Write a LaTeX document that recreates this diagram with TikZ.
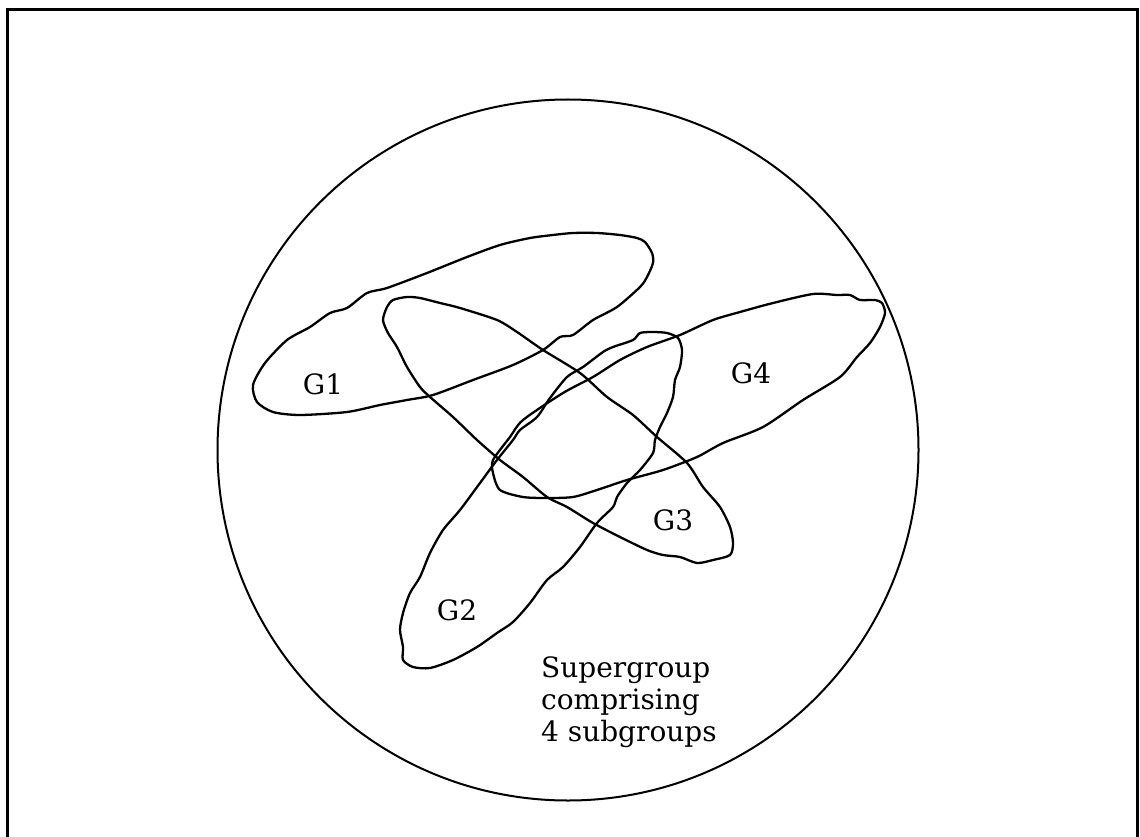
\documentclass[tikz,border=0pt]{standalone}
\usepackage{fontspec}
\setmainfont{DejaVu Serif}
\begin{document}
\begin{tikzpicture}[x=1pt,y=-1pt,
  frame/.style={line width=3pt},
  blob/.style={line width=2.3pt, line join=round},
  super/.style={line width=2pt},
  lbl/.style={font=\fontsize{28}{32}\selectfont, inner sep=0pt},
  txt/.style={font=\fontsize{28}{32}\selectfont, inner sep=0pt, anchor=base west}]
\useasboundingbox (0,0) rectangle (1140,837);
% outer frame (no bottom edge)
\coordinate (fbl) at (7.5,845);
\coordinate (ftl) at (7.5,9.5);
\coordinate (ftr) at (1137,9.5);
\coordinate (fbr) at (1137,845);
\draw[frame] (fbl) -- (ftl) -- (ftr) -- (fbr);
% supergroup circle
\coordinate (sc) at (568,450);
\draw[super] (sc) circle[radius=350.5];
% G1
\draw[blob] plot[smooth cycle, tension=0.45] coordinates {
(253,385) (265,363) (287,340) (310,327) (330,313) (347,308) (367,293) (387,288)
(427,273) (467,257) (500,245) (530,238) (553,235) (573,233) (597,233) (620,235)
(637,238) (645,242) (652,253) (653,263) (647,277) (640,287) (617,307) (593,320)
(573,335) (560,337) (543,350) (513,365) (473,380) (433,395) (407,400) (380,405)
(347,412) (300,415) (273,412) (257,402)};
% G3
\draw[blob] plot[smooth cycle, tension=0.45] coordinates {
(393,300) (407,297) (420,298) (440,303) (460,308) (497,320) (517,332) (543,350)
(580,373) (607,397) (633,415) (657,437) (687,463) (703,487) (720,507) (730,527)
(733,543) (730,555) (713,560) (697,563) (680,557) (663,555) (647,550) (620,537)
(593,523) (567,507) (547,497) (523,477) (500,460) (477,440) (453,417) (430,397)
(420,387) (407,367) (397,347) (388,333) (383,320) (387,307)};
% G2
\draw[blob] plot[smooth cycle, tension=0.45] coordinates {
(653,332) (667,333) (678,338) (682,350) (680,367) (675,380) (673,397) (667,413)
(660,427) (655,440) (653,453) (640,470) (627,483) (617,497) (613,507) (597,523)
(580,547) (563,567) (547,580) (530,603) (513,622) (497,633) (477,647) (453,660)
(430,668) (413,667) (403,660) (403,647) (400,630) (403,613) (410,593) (420,577)
(430,553) (443,530) (460,510) (480,483) (497,460) (513,440) (520,430) (537,417)
(550,398) (567,377) (583,367) (603,352) (613,347) (633,340) (640,333)};
% G4
\draw[blob] plot[smooth cycle, tension=0.45] coordinates {
(493,473) (500,490) (523,497) (547,498) (573,497) (597,490) (627,480) (663,470)
(697,457) (723,443) (763,427) (803,400) (840,377) (857,357) (870,343) (880,327)
(885,313) (882,303) (875,300) (860,300) (850,295) (837,295) (813,294) (773,303)
(740,312) (713,320) (680,335) (647,347) (620,360) (593,377) (563,393) (523,420)
(510,437) (493,460)};
% labels
\node[lbl] (g1) at (323,384) {G1};
\node[lbl] (g2) at (457,610) {G2};
\node[lbl] (g3) at (673,520) {G3};
\node[lbl] (g4) at (751,373) {G4};
\node[txt] (t1) at (541,677) {Supergroup};
\node[txt] (t2) at (541,709) {comprising};
\node[txt] (t3) at (541,741) {4 subgroups};
\end{tikzpicture}
\end{document}
